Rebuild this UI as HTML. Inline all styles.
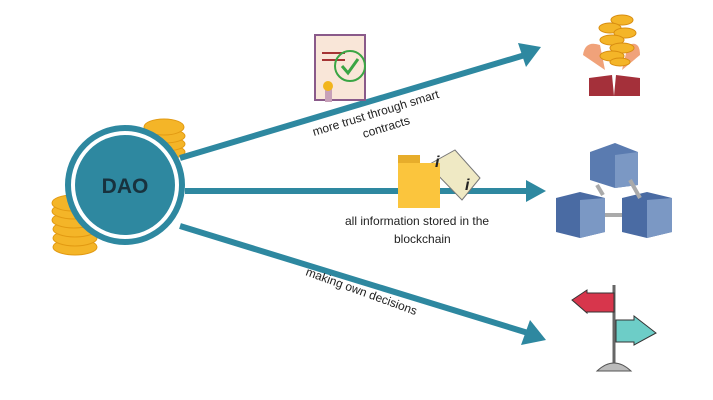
<!DOCTYPE html>
<html><head><meta charset="utf-8"><style>
html,body{margin:0;padding:0;background:#fff;}
svg{display:block;}
text{font-family:"Liberation Sans",sans-serif;}
</style></head><body>
<svg width="713" height="400" viewBox="0 0 713 400" xmlns="http://www.w3.org/2000/svg">
<rect width="713" height="400" fill="#fff"/>
<g fill="#f4b528" stroke="#e29a12" stroke-width="1">
<ellipse cx="165" cy="152" rx="20" ry="7"/><ellipse cx="165" cy="144" rx="20" ry="7"/><ellipse cx="165" cy="136" rx="20" ry="7"/><ellipse cx="164" cy="127" rx="20" ry="8"/>
<ellipse cx="75" cy="247" rx="22" ry="8"/><ellipse cx="75" cy="238" rx="22" ry="8"/><ellipse cx="75" cy="229" rx="22" ry="8"/><ellipse cx="74" cy="220" rx="22" ry="8"/><ellipse cx="74" cy="211" rx="22" ry="8"/><ellipse cx="73" cy="203" rx="21" ry="8"/>
</g>
<g stroke="#2e88a0" stroke-width="6" fill="#2e88a0">
<line x1="180" y1="158" x2="525" y2="55"/>
<line x1="185" y1="191" x2="530" y2="191"/>
<line x1="180" y1="226" x2="528" y2="333"/>
</g>
<g fill="#2e88a0">
<polygon points="541,47 518,43 526,67"/>
<polygon points="546,191 526,180 526,202"/>
<polygon points="546,340 521,345 530,320"/>
</g>
<circle cx="125" cy="185" r="57" fill="#fff" stroke="#2e88a0" stroke-width="6"/>
<circle cx="125" cy="185" r="50" fill="#2e88a0"/>
<text x="125" y="193" font-size="21" font-weight="bold" fill="#18323e" text-anchor="middle">DAO</text>
<text transform="translate(314,136) rotate(-17)" font-size="12" fill="#222">more trust through smart</text>
<text transform="translate(364,138) rotate(-17)" font-size="12" fill="#222">contracts</text>
<text x="345" y="225" font-size="12" fill="#222">all information stored in the</text>
<text x="394" y="243" font-size="12" fill="#222">blockchain</text>
<text transform="translate(305,275) rotate(20)" font-size="12" fill="#222">making own decisions</text>
<rect x="315" y="35" width="50" height="65" fill="#f9e6d8" stroke="#8a5a8a" stroke-width="2"/>
<line x1="322" y1="53" x2="345" y2="53" stroke="#a53434" stroke-width="2"/>
<line x1="322" y1="60" x2="345" y2="60" stroke="#a53434" stroke-width="2"/>
<circle cx="350" cy="66" r="15" fill="none" stroke="#3aa544" stroke-width="2"/>
<polyline points="342,66 348,73 358,59" fill="none" stroke="#3aa544" stroke-width="3"/>
<rect x="325" y="88" width="7" height="14" fill="#c7a0b8"/>
<circle cx="328" cy="86" r="5" fill="#f2b51d"/>
<polygon points="428,165 455,150 480,178 462,200" fill="#efe9c4" stroke="#777"/>
<rect x="398" y="155" width="22" height="12" fill="#e7ad2b"/>
<rect x="398" y="163" width="42" height="45" fill="#fbc53d"/>
<text x="435" y="167" font-size="16" font-style="italic" font-weight="bold" fill="#222">i</text>
<text x="465" y="190" font-size="16" font-style="italic" font-weight="bold" fill="#222">i</text>
<path d="M583,55 Q585,40 600,45 L605,70 Z" fill="#f0a27a"/>
<path d="M640,55 Q640,40 628,45 L622,70 Z" fill="#f0a27a"/>
<g fill="#f4b528" stroke="#d88d10"><ellipse cx="622" cy="20" rx="11" ry="5"/><ellipse cx="610" cy="28" rx="11" ry="5"/><ellipse cx="625" cy="33" rx="11" ry="5"/><ellipse cx="612" cy="40" rx="12" ry="5"/><ellipse cx="622" cy="48" rx="12" ry="5"/><ellipse cx="612" cy="56" rx="12" ry="5"/><ellipse cx="620" cy="62" rx="10" ry="4"/></g>
<polygon points="589,78 612,75 614,96 589,96" fill="#a4303a"/>
<polygon points="640,78 616,75 614,96 640,96" fill="#a4303a"/>
<g>
<polygon points="590,152 615,143 638,152 638,185 615,188 590,180" fill="#5a7bb0"/>
<polygon points="615,155 638,152 638,185 615,188" fill="#7b98c4"/>
<polygon points="556,198 580,192 605,198 605,232 580,238 556,232" fill="#4a6ba3"/>
<polygon points="580,200 605,198 605,232 580,238" fill="#7b98c4"/>
<polygon points="622,198 647,192 672,198 672,232 647,238 622,232" fill="#4a6ba3"/>
<polygon points="647,200 672,198 672,232 647,238" fill="#7b98c4"/>
<line x1="597" y1="185" x2="603" y2="195" stroke="#aaa" stroke-width="4"/>
<line x1="630" y1="180" x2="640" y2="198" stroke="#aaa" stroke-width="4"/>
<line x1="605" y1="215" x2="622" y2="215" stroke="#aaa" stroke-width="4"/>
</g>
<line x1="614" y1="285" x2="614" y2="363" stroke="#666" stroke-width="3"/>
<polygon points="572,300 587,290 587,293 614,293 614,312 587,312 587,313" fill="#d7364c" stroke="#333" stroke-width="1"/>
<polygon points="616,320 634,320 634,316 656,333 634,345 634,342 616,342" fill="#6dcdc7" stroke="#333" stroke-width="1"/>
<path d="M597,371 Q614,355 631,371 Z" fill="#bbb" stroke="#555"/>
</svg>
</body></html>
